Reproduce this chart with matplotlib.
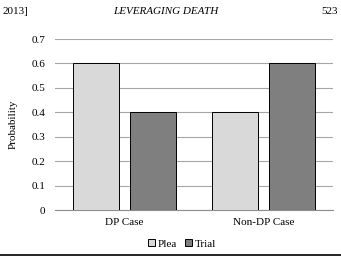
import numpy as np
import matplotlib
matplotlib.use("Agg")
import matplotlib.pyplot as plt

plt.rcParams['font.family'] = ['Liberation Serif', 'DejaVu Serif']

# data
categories = ["DP Case", "Non-DP Case"]
plea = [0.6, 0.4]
trial = [0.4, 0.6]
yticks = [0, 0.1, 0.2, 0.3, 0.4, 0.5, 0.6, 0.7]

fig = plt.figure(figsize=(3.41, 2.58), dpi=100)
ax = fig.add_axes([55/341, 1 - 210/258, 278/341, 171/258])

x = np.arange(len(categories))
w = 0.33
ax.bar(x - 0.205, plea, w, color="#d9d9d9", edgecolor="black", linewidth=0.7, label="Plea", zorder=3)
ax.bar(x + 0.205, trial, w, color="#7f7f7f", edgecolor="black", linewidth=0.7, label="Trial", zorder=3)

ax.set_xlim(-0.5, 1.5)
ax.set_ylim(0, 0.7)
ax.set_yticks(yticks)
ax.set_yticklabels([f"{t:g}" for t in yticks], fontsize=8)
ax.set_xticks(x)
ax.set_xticklabels(categories, fontsize=8)
ax.tick_params(axis="y", length=0, pad=7)
ax.tick_params(axis="x", length=0, pad=6)
ax.yaxis.grid(True, color="#a6a6a6", linewidth=0.8, zorder=0)
for s in ["left", "right", "top"]:
    ax.spines[s].set_visible(False)
ax.spines["bottom"].set_color("#8c8c8c")
ax.set_ylabel("Probability", fontsize=8, labelpad=10)

ax.legend(loc="upper center", bbox_to_anchor=(0.457, -0.17), ncol=2, frameon=False,
          fontsize=8, handlelength=0.6, handleheight=0.6, handletextpad=0.2,
          columnspacing=0.8, borderaxespad=0, borderpad=0)

# page header
fig.text(3/341, 1 - 11/258, "2013]", fontsize=8, va="center", ha="left")
fig.text(166/341, 1 - 11/258, "LEVERAGING DEATH", fontsize=8, style="italic", va="center", ha="center")
fig.text(338/341, 1 - 11/258, "523", fontsize=8, va="center", ha="right")
fig.add_artist(plt.Line2D([0, 1], [1 - 255/258, 1 - 255/258], color="black", linewidth=1.2))

fig.savefig("out.png", dpi=100)
